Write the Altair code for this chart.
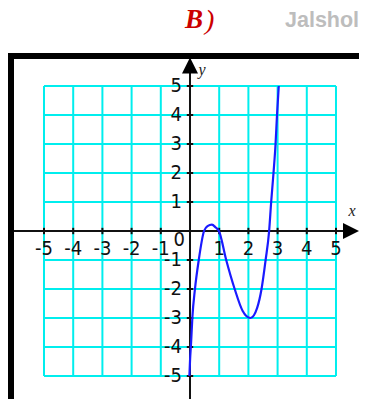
import altair as alt
import pandas as pd

# ---- data ----
grid_vals = [-5, -4, -3, -2, -1, 0, 1, 2, 3, 4, 5]
tick_vals = [-5, -4, -3, -2, -1, 1, 2, 3, 4, 5]
tick_text = ["-5", "-4", "-3", "-2", "-1", "1", "2", "3", "4", "5"]

curve_x = [-0.02, 0.0, 0.04, 0.08, 0.17, 0.30, 0.48, 0.60, 0.75, 0.88, 0.99,
           1.24, 1.53, 1.80, 2.07, 2.30, 2.45, 2.59, 2.71, 2.78, 2.86, 2.93,
           2.98, 3.04]
curve_y = [-5.0, -4.5, -3.8, -3.0, -2.0, -1.0, 0.0, 0.17, 0.22, 0.12, 0.0,
           -1.0, -2.0, -2.75, -3.0, -2.65, -2.0, -1.0, 0.0, 1.0, 2.0, 3.0,
           4.0, 5.0]

W, H = 351, 391
XS = alt.Scale(domain=[-6.233, 5.788], nice=False, zero=False)
YS = alt.Scale(domain=[-5.793, 7.690], nice=False, zero=False)

def X(f, **kw):
    return alt.X(f, scale=XS, axis=None, **kw)

def Y(f, **kw):
    return alt.Y(f, scale=YS, axis=None, **kw)

one = pd.DataFrame({"a": [0]})

grid_col = "#00eeee"
grid_v = alt.Chart(pd.DataFrame({"g": grid_vals, "lo": -5, "hi": 5})).mark_rule(
    color=grid_col, strokeWidth=2).encode(x=X("g:Q"), y=Y("lo:Q"), y2="hi:Q")
grid_h = alt.Chart(pd.DataFrame({"g": grid_vals, "lo": -5, "hi": 5})).mark_rule(
    color=grid_col, strokeWidth=2).encode(y=Y("g:Q"), x=X("lo:Q"), x2="hi:Q")

axis_df = pd.DataFrame({"zero": [0], "xa": [-6.027], "xb": [5.25],
                        "ya": [-5.793], "yb": [5.47], "xarr": [5.514], "yarr": [5.707]})
x_axis = alt.Chart(axis_df).mark_rule(color="#111111", strokeWidth=2).encode(
    x=X("xa:Q"), x2="xb:Q", y=Y("zero:Q"))
y_axis = alt.Chart(axis_df).mark_rule(color="#111111", strokeWidth=2).encode(
    y=Y("ya:Q"), y2="yb:Q", x=X("zero:Q"))
x_arrow = alt.Chart(axis_df).mark_point(
    shape="M-1,-1L1,0L-1,1Z", size=256, filled=True, color="#000000", opacity=1
).encode(x=X("xarr:Q"), y=Y("zero:Q"))
y_arrow = alt.Chart(axis_df).mark_point(
    shape="M0,-1L1,1L-1,1Z", size=256, filled=True, color="#000000", opacity=1
).encode(x=X("zero:Q"), y=Y("yarr:Q"))

tick_df = pd.DataFrame({"v": tick_vals, "t": tick_text, "zero": 0, "lo": -0.11, "hi": 0.11})
x_ticks = alt.Chart(tick_df).mark_rule(color="#111111", strokeWidth=2).encode(
    x=X("v:Q"), y=Y("lo:Q"), y2="hi:Q")
y_ticks = alt.Chart(tick_df).mark_rule(color="#111111", strokeWidth=2).encode(
    y=Y("v:Q"), x=X("lo:Q"), x2="hi:Q")

lab_font = "Liberation Sans Narrow, DejaVu Sans Condensed, Arial Narrow, sans-serif"
x_labels = alt.Chart(tick_df).mark_text(
    font=lab_font, fontSize=20, color="#111111", baseline="middle", align="center", dy=18
).encode(x=X("v:Q"), y=Y("zero:Q"), text="t:N")
y_labels = alt.Chart(tick_df).mark_text(
    font=lab_font, fontSize=20, color="#111111", baseline="middle", align="right", dx=-8
).encode(y=Y("v:Q"), x=X("zero:Q"), text="t:N")
zero_label = alt.Chart(axis_df).mark_text(
    font=lab_font, fontSize=20, color="#111111", baseline="middle", align="right", dx=-5, dy=9
).encode(x=X("zero:Q"), y=Y("zero:Q"), text=alt.value("0"))

curve = alt.Chart(pd.DataFrame({"x": curve_x, "y": curve_y})).mark_line(
    color="#1a1aff", strokeWidth=2.2, interpolate="monotone"
).encode(x=X("x:Q"), y=Y("y:Q"), order="x:Q")

x_name = alt.Chart(one).mark_text(
    font="Liberation Serif", fontStyle="italic", fontSize=16, color="#222222",
    align="center", baseline="middle").encode(
    x=alt.value(344), y=alt.value(203), text=alt.value("x"))
y_name = alt.Chart(one).mark_text(
    font="Liberation Serif", fontStyle="italic", fontSize=16, color="#222222",
    align="center", baseline="middle").encode(
    x=alt.value(194), y=alt.value(62), text=alt.value("y"))

frame_top = alt.Chart(one).mark_rule(color="#000000", strokeWidth=6).encode(
    x=alt.value(0), x2=alt.value(W), y=alt.value(48))
frame_left = alt.Chart(one).mark_rule(color="#000000", strokeWidth=6).encode(
    x=alt.value(3), y=alt.value(48), y2=alt.value(H))

title_b = alt.Chart(one).mark_text(
    font="Liberation Serif", fontStyle="italic", fontWeight="bold", fontSize=27,
    color="#cc0000", align="left", baseline="alphabetic").encode(
    x=alt.value(177), y=alt.value(20), text=alt.value("B"))
title_p = alt.Chart(one).mark_text(
    font="Liberation Serif", fontStyle="italic", fontSize=28,
    color="#cc0000", align="left", baseline="alphabetic").encode(
    x=alt.value(197), y=alt.value(21), text=alt.value(")"))
brand = alt.Chart(one).mark_text(
    font="Liberation Sans", fontWeight="bold", fontSize=21.5,
    color="#bdbdbd", align="left", baseline="alphabetic").encode(
    x=alt.value(277), y=alt.value(18.5), text=alt.value("Jalshol"))

chart = alt.layer(
    grid_v, grid_h, x_axis, y_axis, x_arrow, y_arrow, x_ticks, y_ticks,
    x_labels, y_labels, zero_label, curve, x_name, y_name,
    frame_top, frame_left, title_b, title_p, brand
).properties(
    width=W, height=H, padding=0, autosize="none"
).configure_view(stroke=None)

chart.save("out.html", embed_options={"renderer": "svg", "actions": False})
